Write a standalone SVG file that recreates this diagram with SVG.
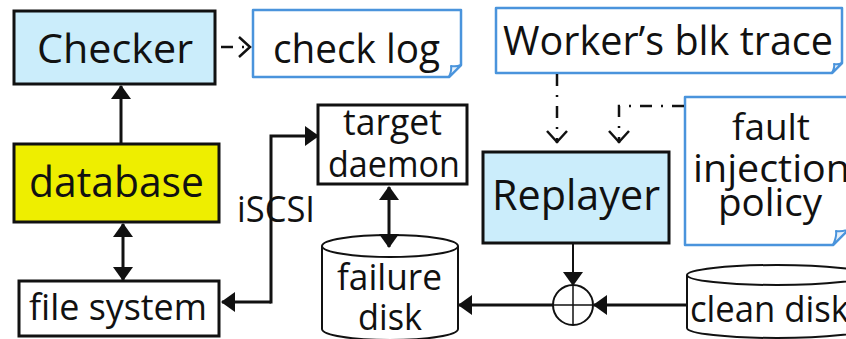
<svg xmlns="http://www.w3.org/2000/svg" width="846" height="339" viewBox="0 0 846 339">
  <style>
    text { font-family: "Open Sans", "Noto Sans", "DejaVu Sans", sans-serif; fill: #111; }
    .mid { text-anchor: middle; }
    .box { stroke: #111; stroke-width: 3; }
    .proc { fill: #cbedfb; }
    .db { fill: #eeee00; }
    .plain { fill: #fff; }
    .note { fill: #fff; stroke: #4a94dc; stroke-width: 2.5; stroke-linejoin: round; }
    .flap { fill: #e6f0fa; stroke: #4a94dc; stroke-width: 2; stroke-linejoin: round; }
    .disk { fill: #fff; stroke: #111; stroke-width: 2; }
    .wire { fill: none; stroke: #111; stroke-width: 3; }
    .thin { fill: none; stroke: #111; stroke-width: 2; }
    .dash { fill: none; stroke: #111; stroke-width: 2.5; stroke-dasharray: 12 9 2 9; }
  </style>
  <defs>
    <marker id="head" viewBox="0 0 14 20" refX="13" refY="10" markerWidth="14" markerHeight="20" markerUnits="userSpaceOnUse" orient="auto-start-reverse">
      <path d="M0,0 L14,10 L0,20 Z" fill="#111"/>
    </marker>
    <marker id="open" viewBox="0 0 14 22" refX="13" refY="11" markerWidth="14" markerHeight="22" markerUnits="userSpaceOnUse" orient="auto">
      <path d="M1,1 L12,11 L1,21" fill="none" stroke="#111" stroke-width="2.5"/>
    </marker>
  </defs>

  <!-- Checker -->
  <g id="checker">
    <rect class="box proc" x="14" y="11" width="201" height="73"/>
    <text class="mid" x="115" y="63" font-size="41" textLength="156" lengthAdjust="spacingAndGlyphs">Checker</text>
  </g>

  <!-- check log note -->
  <g id="check-log">
    <path class="note" d="M253,10 H461 V65 L449,77 H253 Z"/>
    <path class="flap" d="M449,77 Q452,70 451,66 Q456,67 461,65 Z"/>
    <text class="mid" x="356.5" y="63" font-size="40" textLength="167" lengthAdjust="spacingAndGlyphs">check log</text>
  </g>

  <!-- database -->
  <g id="database">
    <rect class="box db" x="14" y="144" width="205" height="78"/>
    <text class="mid" x="116.5" y="197" font-size="42" textLength="175" lengthAdjust="spacingAndGlyphs">database</text>
  </g>

  <!-- file system -->
  <g id="file-system">
    <rect class="box plain" x="19" y="281" width="200" height="55"/>
    <text class="mid" x="118" y="320" font-size="37" textLength="178" lengthAdjust="spacingAndGlyphs">file system</text>
  </g>

  <!-- iSCSI label -->
  <g id="iscsi-label">
    <text class="mid" x="276" y="222" font-size="36" textLength="78" lengthAdjust="spacingAndGlyphs">iSCSI</text>
  </g>

  <!-- target daemon -->
  <g id="target-daemon">
    <rect class="box plain" x="318" y="105" width="149" height="79" stroke-width="2.5"/>
    <text class="mid" x="392.5" y="135" font-size="36" textLength="99" lengthAdjust="spacingAndGlyphs">target</text>
    <text class="mid" x="394" y="177" font-size="36" textLength="132" lengthAdjust="spacingAndGlyphs">daemon</text>
  </g>

  <!-- failure disk -->
  <g id="failure-disk">
    <path class="disk" d="M322,246 V329 A68,11 0 0 0 458,329 V246"/>
    <ellipse class="disk" cx="390" cy="246" rx="68" ry="11"/>
    <text class="mid" x="389.5" y="290" font-size="36" textLength="105" lengthAdjust="spacingAndGlyphs">failure</text>
    <text class="mid" x="390" y="330" font-size="36" textLength="64" lengthAdjust="spacingAndGlyphs">disk</text>
  </g>

  <!-- Worker's blk trace note -->
  <g id="worker-trace">
    <path class="note" d="M496,8 H842 V63 L832,73 H496 Z"/>
    <path class="flap" d="M832,73 Q835,67 834,64 Q838,65 842,63 Z"/>
    <text class="mid" x="668" y="55" font-size="40" textLength="330" lengthAdjust="spacingAndGlyphs">Worker’s blk trace</text>
  </g>

  <!-- Replayer -->
  <g id="replayer">
    <rect class="box proc" x="483" y="152" width="186" height="91"/>
    <text class="mid" x="576" y="210" font-size="42" textLength="168" lengthAdjust="spacingAndGlyphs">Replayer</text>
  </g>

  <!-- fault injection policy note -->
  <g id="fault-policy">
    <path class="note" d="M685,97 H849 V229 L833,245 H685 Z"/>
    <path class="flap" d="M833,245 Q837,236 836,231 Q843,232 849,229 Z"/>
    <text class="mid" x="771" y="140" font-size="37" textLength="78" lengthAdjust="spacingAndGlyphs">fault</text>
    <text x="693" y="182" font-size="38" textLength="157" lengthAdjust="spacingAndGlyphs">injection</text>
    <text class="mid" x="770" y="216" font-size="38" textLength="104" lengthAdjust="spacingAndGlyphs">policy</text>
  </g>

  <!-- merge point -->
  <g id="merge">
    <circle cx="573" cy="305" r="20" fill="#fff" stroke="#111" stroke-width="2"/>
    <path d="M553,305 H593 M573,285 V325" stroke="#111" stroke-width="1.5"/>
  </g>

  <!-- clean disk -->
  <g id="clean-disk">
    <path class="disk" d="M687,275 V328 A90,10 0 0 0 867,328 V275"/>
    <ellipse class="disk" cx="777" cy="275" rx="90" ry="10"/>
    <text x="690" y="322" font-size="36" textLength="159" lengthAdjust="spacingAndGlyphs">clean disk</text>
  </g>

  <!-- connectors, drawn last so arrowheads sit over the disk tops -->
  <g id="connectors">
    <path class="wire" d="M121,143 V86" marker-end="url(#head)"/>
    <path class="dash" d="M221,47 H251" stroke-dasharray="3 4 9 20" marker-end="url(#open)"/>
    <path class="wire" d="M123,224 V280" marker-start="url(#head)" marker-end="url(#head)"/>
    <path class="wire" d="M271,302 H222" marker-end="url(#head)"/>
    <path class="wire" d="M271,303.5 V136 H318" marker-end="url(#head)"/>
    <path class="wire" d="M389,187 V247" marker-start="url(#head)" marker-end="url(#head)"/>
    <path class="dash" d="M557,74 V143" marker-end="url(#open)"/>
    <path class="dash" d="M684,106 H619 V143" marker-end="url(#open)"/>
    <path class="thin" d="M573,243 V285" marker-end="url(#head)"/>
    <path class="wire" d="M686,305 H594" marker-end="url(#head)"/>
    <path class="wire" d="M553,305 H459" marker-end="url(#head)"/>
  </g>
</svg>
